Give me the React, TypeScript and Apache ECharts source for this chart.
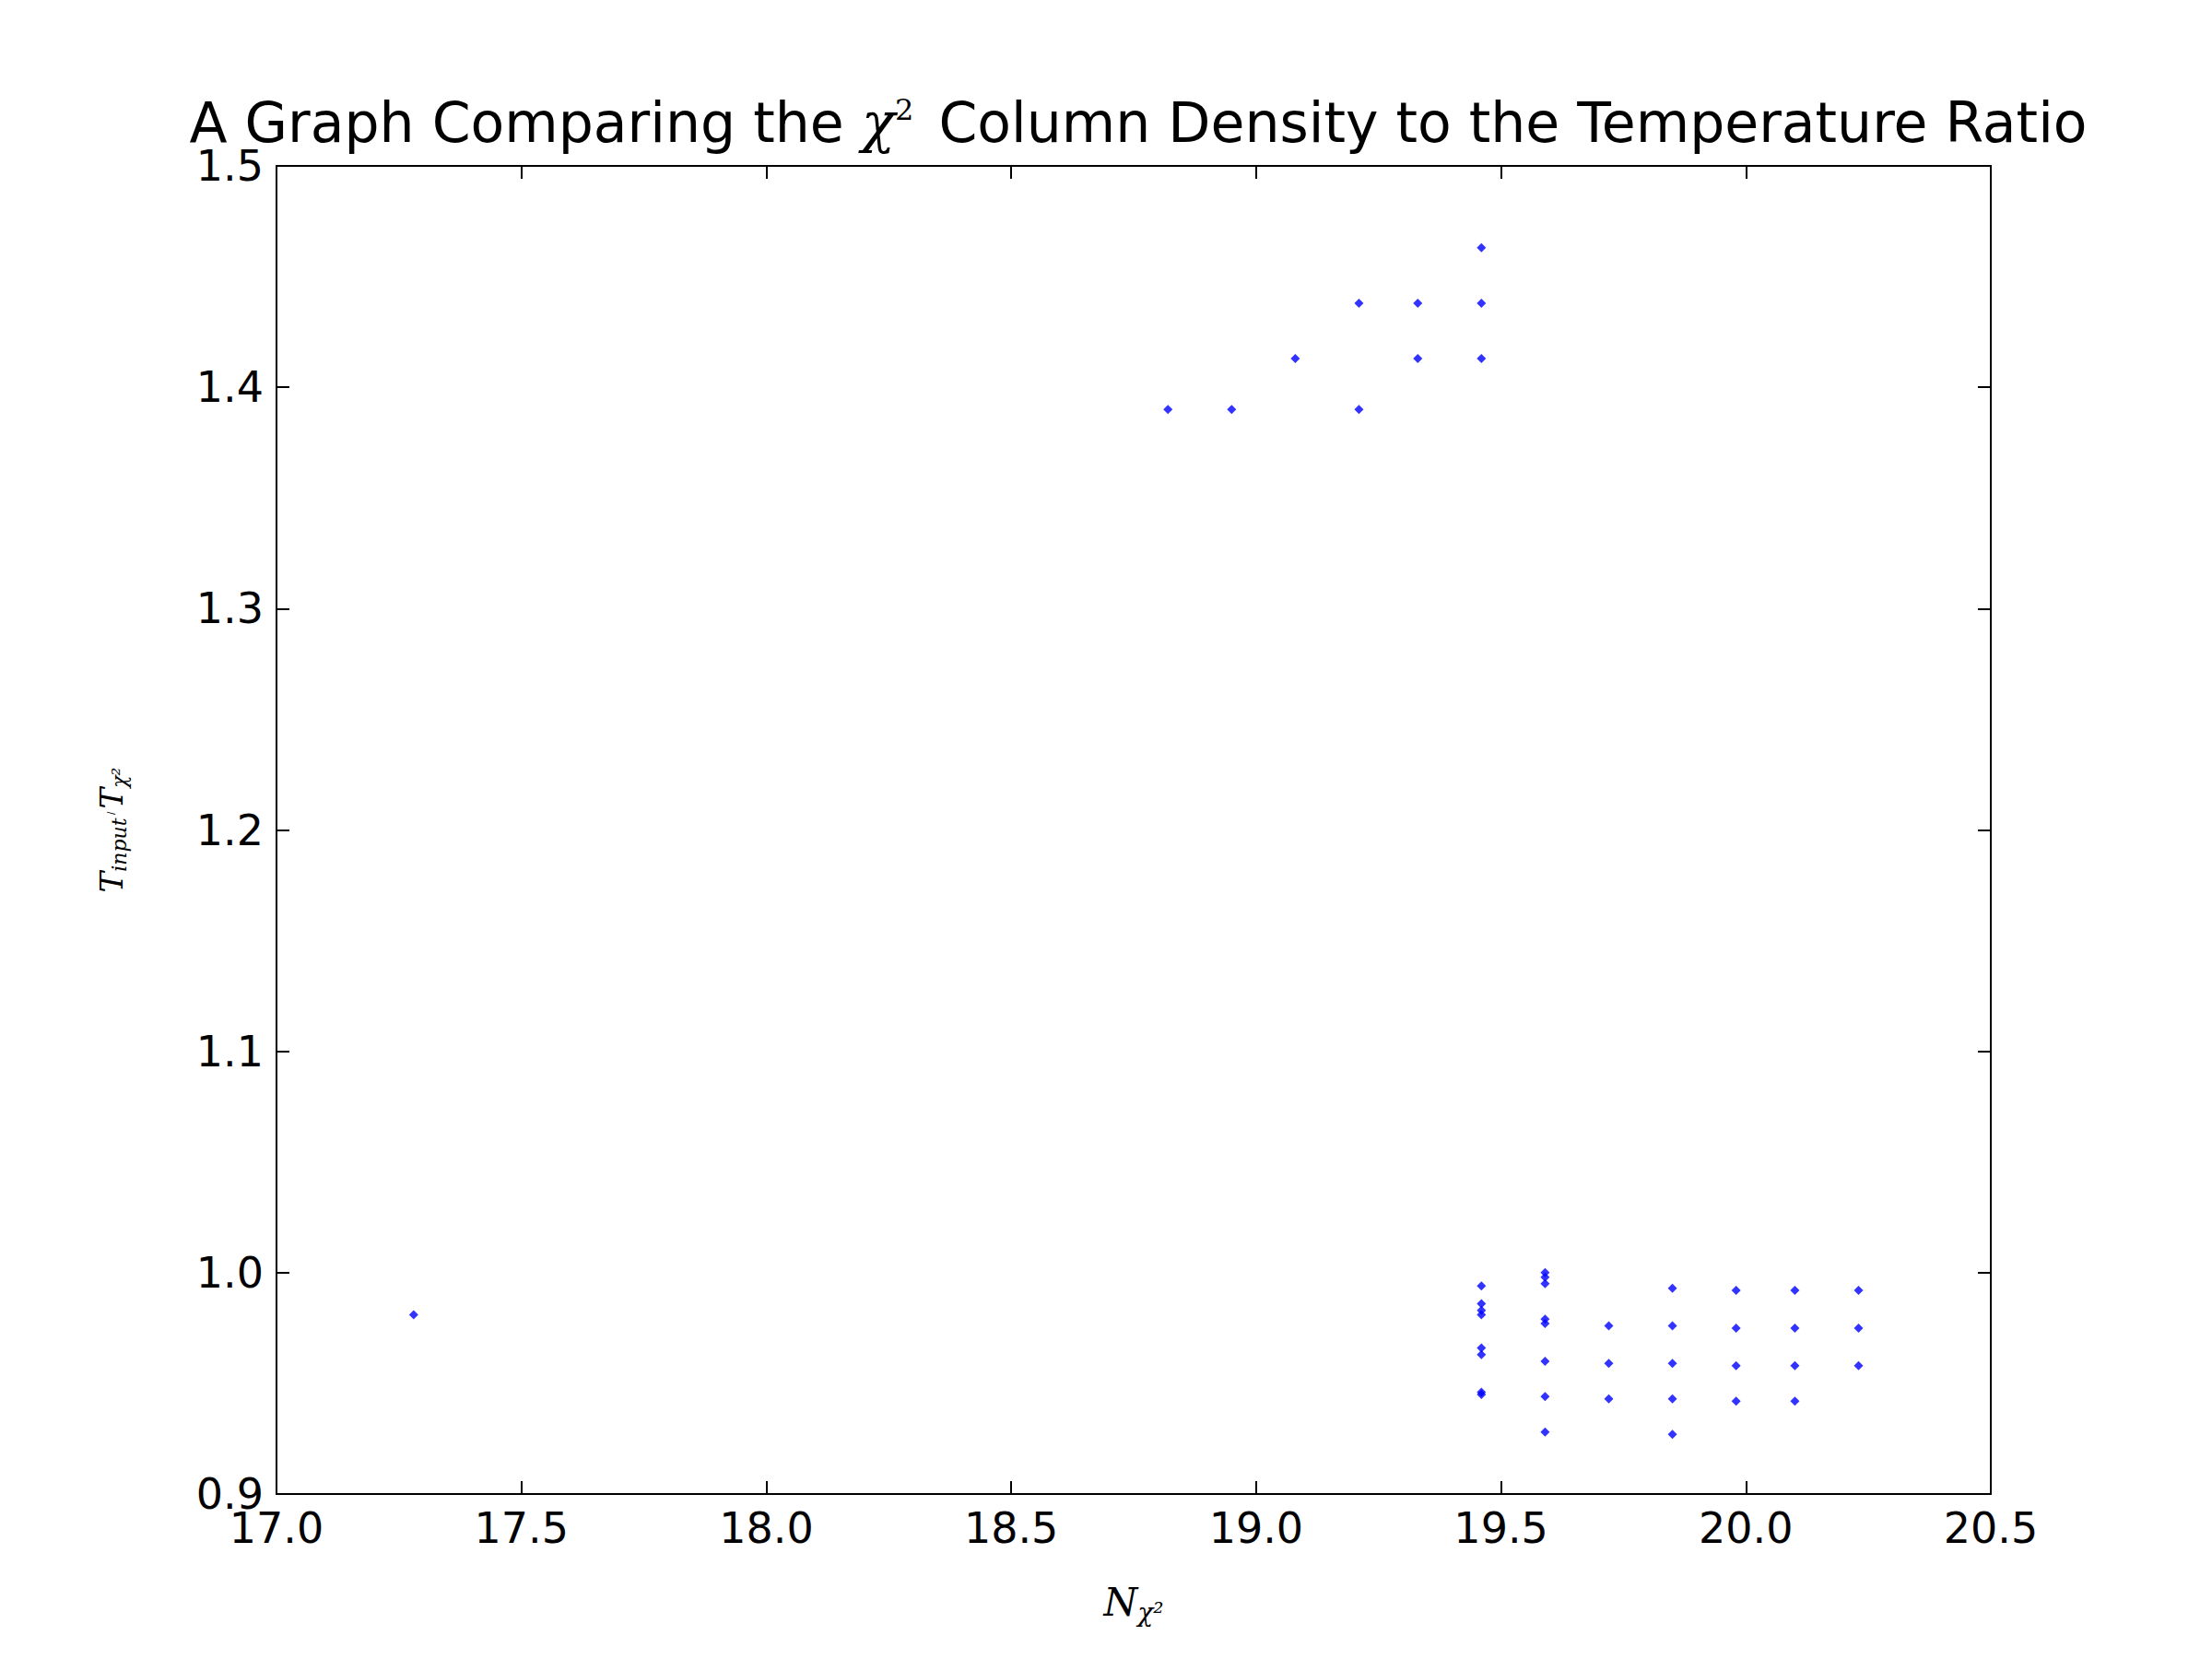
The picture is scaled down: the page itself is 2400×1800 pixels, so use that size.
import { useEffect, useRef } from 'react'
import * as echarts from 'echarts'

// N_chi2 values and matching temperature ratios
const nChi2 = [
  17.28,
  18.82, 18.95, 19.08, 19.21, 19.21, 19.33, 19.33, 19.46, 19.46, 19.46,
  19.46, 19.46, 19.46, 19.46, 19.46, 19.46, 19.46, 19.46,
  19.59, 19.59, 19.59, 19.59, 19.59, 19.59, 19.59, 19.59,
  19.72, 19.72, 19.72,
  19.85, 19.85, 19.85, 19.85, 19.85,
  19.98, 19.98, 19.98, 19.98,
  20.10, 20.10, 20.10, 20.10,
  20.23, 20.23, 20.23,
]
const tRatio = [
  0.981,
  1.390, 1.390, 1.413, 1.438, 1.390, 1.438, 1.413, 1.463, 1.438, 1.413,
  0.994, 0.986, 0.983, 0.981, 0.966, 0.963, 0.946, 0.945,
  1.000, 0.998, 0.995, 0.979, 0.977, 0.960, 0.944, 0.928,
  0.976, 0.959, 0.943,
  0.993, 0.976, 0.959, 0.943, 0.927,
  0.992, 0.975, 0.958, 0.942,
  0.992, 0.975, 0.958, 0.942,
  0.992, 0.975, 0.958,
]

const font = 'DejaVu Sans'
const axisBase = {
  type: 'value' as const,
  axisLine: { lineStyle: { color: '#000', width: 2 } },
  axisTick: { inside: true, length: 14, lineStyle: { color: '#000', width: 2 } },
  splitLine: { show: false },
}

export default function App() {
  const ref = useRef<HTMLDivElement>(null)

  useEffect(() => {
    if (!ref.current) return
    document.body.style.margin = '0'
    const chart = echarts.init(ref.current, null, { renderer: 'svg' })
    const xlim = { min: 17, max: 20.5, interval: 0.5 }
    const ylim = { min: 0.9, max: 1.5, interval: 0.1 }
    chart.setOption({
      animation: false,
      backgroundColor: '#fff',
      title: {
        text: 'A Graph Comparing the {i|χ}{sup|2} Column Density to the Temperature Ratio',
        left: 1230, top: 98, textAlign: 'center',
        textStyle: {
          fontFamily: font, fontSize: 60, fontWeight: 'normal', color: '#000',
          rich: {
            i: { fontFamily: 'DejaVu Serif', fontStyle: 'italic', fontSize: 60 },
            sup: { fontFamily: 'DejaVu Serif', fontSize: 32, verticalAlign: 'top', padding: [0, 8, 26, 0] },
          },
        },
      },
      grid: { left: 300, right: 240, top: 180, bottom: 179 },
      xAxis: [
        {
          ...axisBase, ...xlim, position: 'bottom',
          axisLabel: {
            fontFamily: font, fontSize: 46, color: '#000', margin: 14,
            formatter: (v: number) => v.toFixed(1),
          },
          name: '{i|N}{s|χ²}', nameLocation: 'middle', nameGap: 92,
          nameTextStyle: {
            rich: {
              i: { fontFamily: 'DejaVu Serif', fontStyle: 'italic', fontSize: 42, color: '#000' },
              s: { fontFamily: 'DejaVu Serif', fontStyle: 'italic', fontSize: 28, color: '#000', padding: [22, 0, 0, 0] },
            },
          },
        },
        { ...axisBase, ...xlim, position: 'top', axisLabel: { show: false } },
      ],
      yAxis: [
        {
          ...axisBase, ...ylim, position: 'left',
          axisLabel: {
            fontFamily: font, fontSize: 46, color: '#000', margin: 14,
            formatter: (v: number) => v.toFixed(1),
          },
          name: '{i|T}{s|input} / {i|T}{s|χ²}', nameLocation: 'middle', nameGap: 160,
          nameTextStyle: {
            rich: {
              i: { fontFamily: 'DejaVu Serif', fontStyle: 'italic', fontSize: 34, color: '#000' },
              s: { fontFamily: 'DejaVu Serif', fontStyle: 'italic', fontSize: 22, color: '#000', padding: [16, 0, 0, 0] },
            },
          },
        },
        { ...axisBase, ...ylim, position: 'right', axisLabel: { show: false } },
      ],
      series: [
        {
          type: 'scatter',
          symbol: 'diamond',
          symbolSize: 10,
          itemStyle: { color: '#0000ff' },
          data: nChi2.map((x, i) => [x, tRatio[i]]),
        },
      ],
    })
    return () => chart.dispose()
  }, [])

  return <div ref={ref} style={{ width: 2400, height: 1800 }} />
}
